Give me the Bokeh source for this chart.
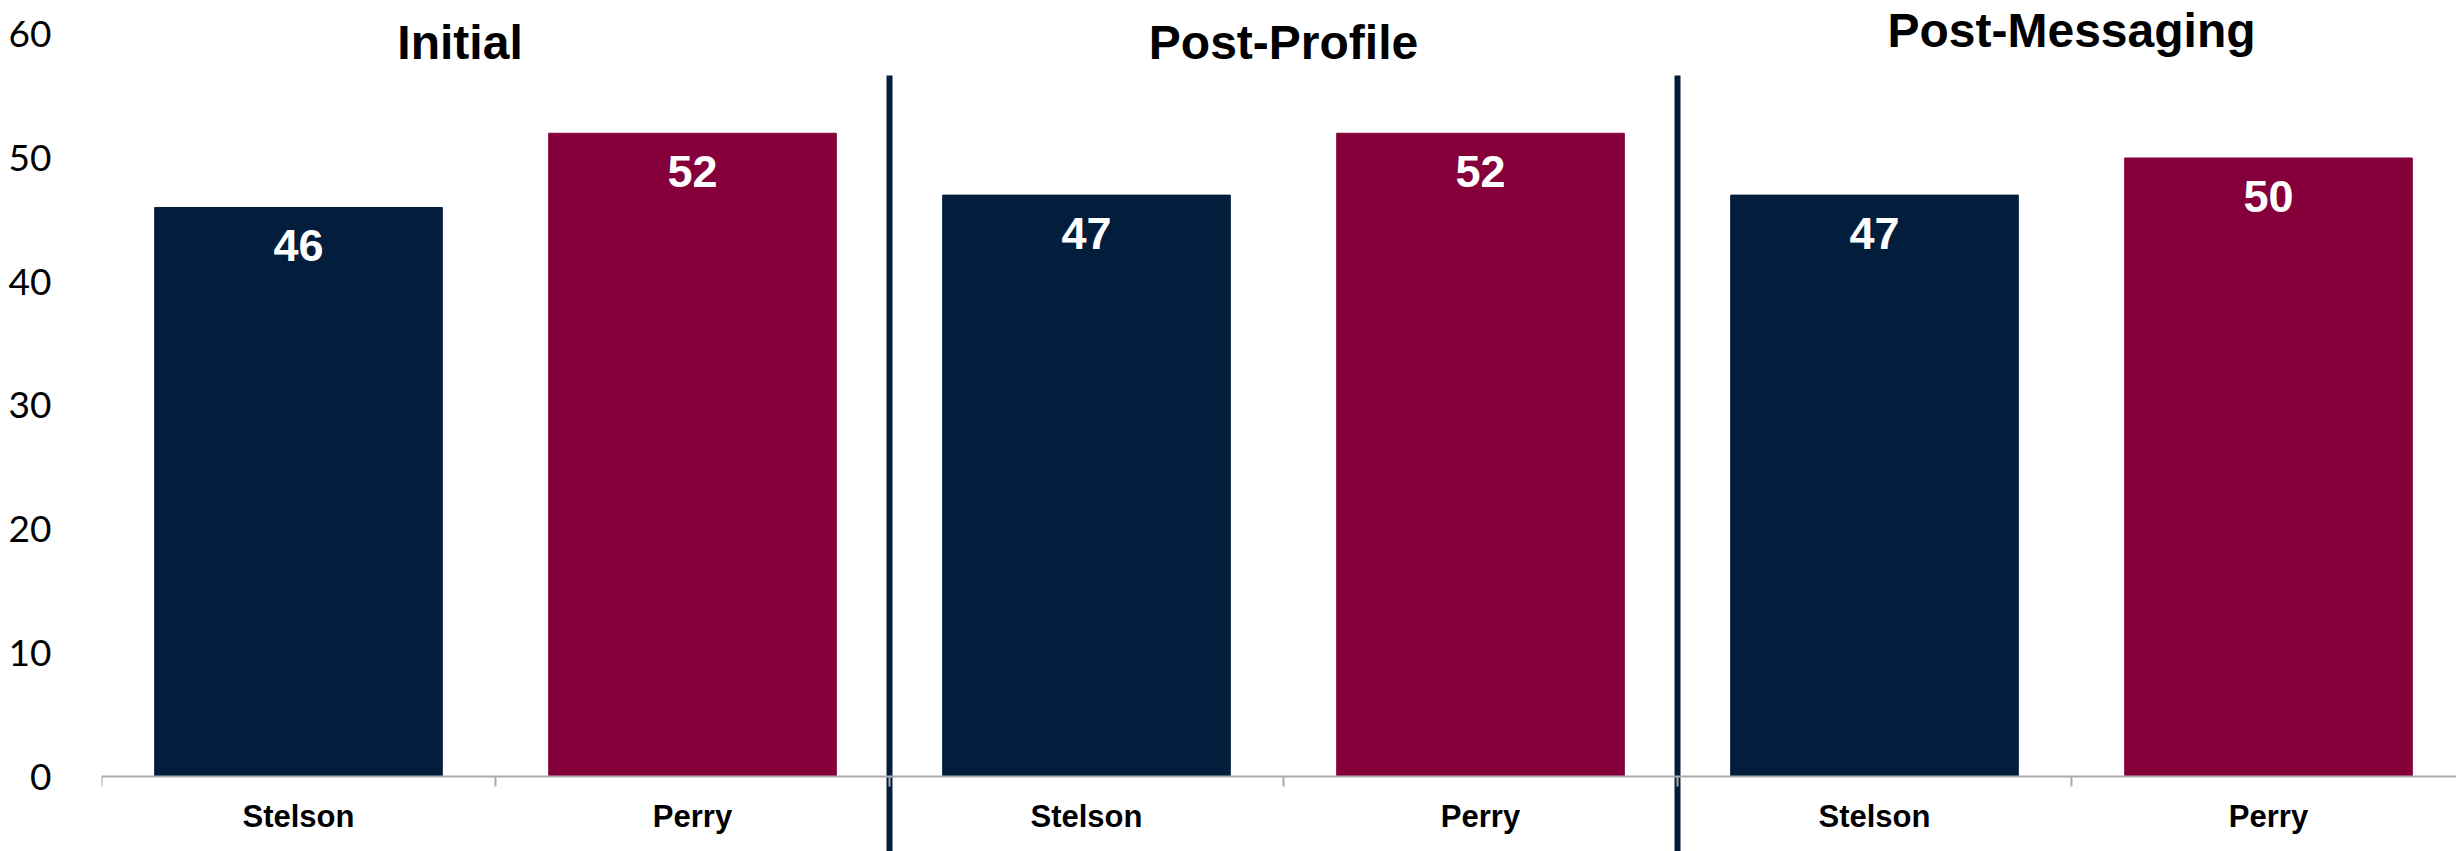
from bokeh.plotting import figure
from bokeh.models import ColumnDataSource, FixedTicker, Range1d
from bokeh.core.properties import value
from bokeh.embed import file_html
from bokeh.resources import INLINE

# ---- data ----
stages = ["Initial", "Post-Profile", "Post-Messaging"]
candidates = ["Stelson", "Perry"]
stelson = [46, 47, 47]
perry = [52, 52, 50]
y_ticks = [0, 10, 20, 30, 40, 50, 60]

# ---- style ----
NAVY = "#031d3d"
MAROON = "#85003a"
AXIS_GRAY = "#ababab"
BOLD_FONT = value("Liberation Sans")
NUM_FONT = "Lato"

W, H = 2456, 851
LEFT = 101         # frame left (px)
ZERO_Y = 776       # pixel row of y = 0 inside the figure
PX_X = 394.0       # px per category
PX_Y = 12.37       # px per y unit

x_end = (W - LEFT) / PX_X
y_min = -(H - ZERO_Y) / PX_Y
y_max = ZERO_Y / PX_Y

# build bar table from the named lists
series = [stelson, perry]
bar_colors = [NAVY, MAROON]
xs, tops, cols, txt = [], [], [], []
tick_centers, overrides = [], {}
for i, st in enumerate(stages):
    for j, cand in enumerate(candidates):
        xc = len(candidates) * i + j + 0.5
        xs.append(xc)
        tops.append(series[j][i])
        cols.append(bar_colors[j])
        txt.append(str(series[j][i]))
        tick_centers.append(xc)
        overrides[xc] = cand
src = ColumnDataSource(dict(x=xs, top=tops, color=cols, label=txt))

n_cat = len(stages) * len(candidates)
boundaries = list(range(0, n_cat + 1))
separators = [len(candidates) * i for i in range(1, len(stages))]

p = figure(width=W, height=H,
           x_range=Range1d(0, x_end), y_range=Range1d(y_min, y_max),
           output_backend="svg", toolbar_location=None,
           min_border_left=LEFT, min_border_right=0,
           min_border_top=0, min_border_bottom=0)
p.outline_line_color = None
p.grid.grid_line_color = None
p.background_fill_color = "white"
p.border_fill_color = "white"

p.vbar(x="x", top="top", bottom=0, width=0.73, color="color", source=src)

p.text(x="x", y="top", text="label", source=src, text_color="white",
       text_font=BOLD_FONT, text_font_style="bold", text_font_size="45px",
       text_align="center", text_baseline="middle", y_offset=38)

# stage titles
title_dx = [-0.09, 0.0, 0.0]
title_y = [59.35, 59.3, 60.3]
tsrc = ColumnDataSource(dict(
    x=[len(candidates) * i + len(candidates) / 2 + title_dx[i] for i in range(len(stages))],
    y=title_y, t=stages))
p.text(x="x", y="y", text="t", source=tsrc, text_color="black",
       text_font=BOLD_FONT, text_font_style="bold", text_font_size="48px",
       text_align="center", text_baseline="middle")

# separators between stages
p.segment(x0=separators, x1=separators, y0=[y_min] * len(separators),
          y1=[56.67] * len(separators), line_color=NAVY, line_width=6)

# x axis
xa = p.xaxis[0]
xa.fixed_location = 0
xa.ticker = FixedTicker(ticks=tick_centers, minor_ticks=boundaries)
xa.major_label_overrides = overrides
xa.major_tick_in = 0
xa.major_tick_out = 0
xa.minor_tick_in = 0
xa.minor_tick_out = 10
xa.minor_tick_line_color = AXIS_GRAY
xa.minor_tick_line_width = 2
xa.axis_line_color = AXIS_GRAY
xa.axis_line_width = 2
xa.major_label_standoff = 12
xa.major_label_text_font = "Liberation Sans"
xa.major_label_text_font_style = "bold"
xa.major_label_text_font_size = "31px"
xa.major_label_text_color = "black"

# y axis
ya = p.yaxis[0]
ya.ticker = FixedTicker(ticks=y_ticks)
ya.axis_line_color = None
ya.major_tick_line_color = None
ya.minor_tick_line_color = None
ya.major_tick_in = 0
ya.major_tick_out = 0
ya.major_label_standoff = 50
ya.major_label_text_font = NUM_FONT
ya.major_label_text_font_size = "37px"
ya.major_label_text_color = "black"

open("out.html", "w").write(file_html(p, INLINE))
